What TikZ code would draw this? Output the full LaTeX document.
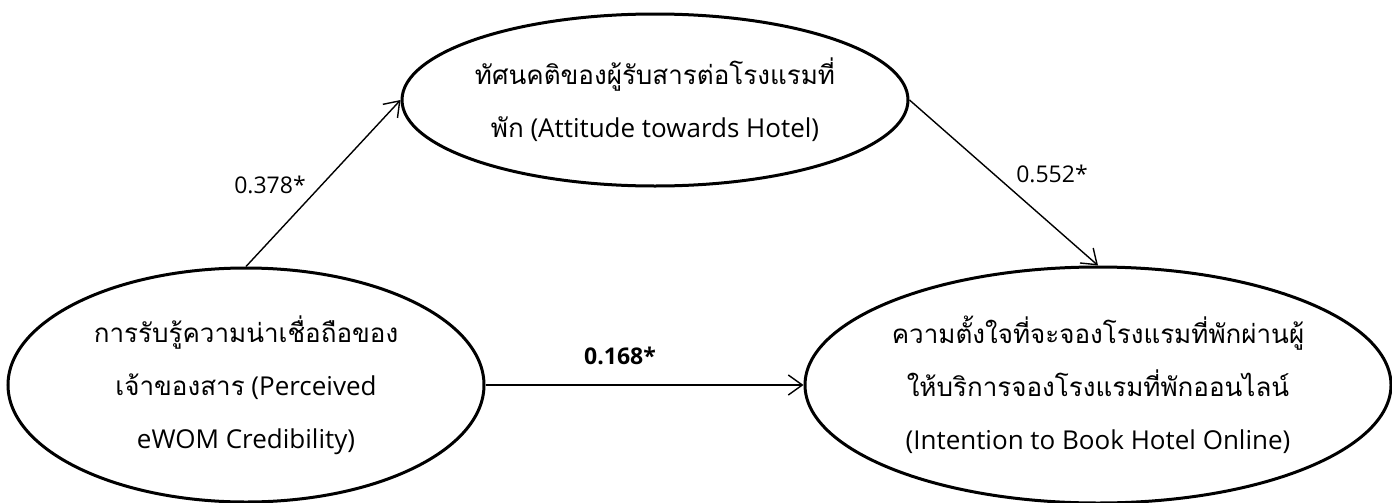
\documentclass[tikz,border=0pt]{standalone}
\usepackage{fontspec}
\setmainfont{Open Sans}
\newfontfamily\thfont[Script=Thai]{Loma}
\usetikzlibrary{shapes.geometric,arrows.meta}
\tikzset{
  x=0.5pt, y=-0.5pt,
  construct/.style={ellipse, draw, line width=1.5pt, inner sep=0pt},
  label text/.style={align=center, inner sep=0pt, font=\fontsize{13}{26.5}\selectfont},
  path/.style={line width=0.7pt, -{Straight Barb[length=7pt,width=10pt,line width=0.7pt]}},
  coef/.style={font=\fontsize{11.5}{14}\selectfont, inner sep=0pt},
}
\begin{document}
\begin{tikzpicture}
\useasboundingbox (0,0) rectangle (1392,503);
\node[construct, minimum width=253pt, minimum height=86pt] (att) at (655,100) {};
\node[construct, minimum width=238pt, minimum height=117pt] (cred) at (246,385) {};
\node[construct, minimum width=293pt, minimum height=118pt] (int) at (1098,385) {};
\node[label text] (attT) at (att.center)
  {{\thfont ทัศนคติของผู้รับสารต่อโรงแรมที่}\\{\thfont พัก} (Attitude towards Hotel)};
\node[label text] (credT) at (cred.center)
  {{\thfont การรับรู้ความน่าเชื่อถือของ}\\{\thfont เจ้าของสาร} (Perceived\\eWOM Credibility)};
\node[label text] (intT) at (int.center)
  {{\thfont ความตั้งใจที่จะจองโรงแรมที่พักผ่านผู้}\\{\thfont ให้บริการจองโรงแรมที่พักออนไลน์}\\(Intention to Book Hotel Online)};
\draw[path] (cred.north) -- (att.west);
\draw[path] (att.east) -- (int.north);
\draw[path] (cred.east) -- (int.west);
\node[coef] (c1) at (270,185) {0.378*};
\node[coef] (c2) at (1052,174) {0.552*};
\node[coef, font=\fontsize{11.5}{14}\selectfont\bfseries] (c3) at (620,356) {0.168*};
\end{tikzpicture}
\end{document}
